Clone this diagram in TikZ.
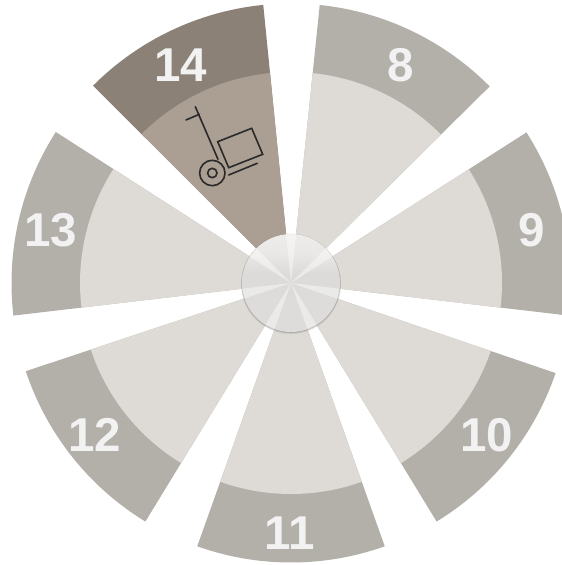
\documentclass[tikz,border=0pt]{standalone}
\usepackage{fontspec}
\setmainfont{Liberation Sans}
\definecolor{outerG}{HTML}{B3B0AA}
\definecolor{innerG}{HTML}{DEDAD6}
\definecolor{outerA}{HTML}{8C8177}
\definecolor{innerA}{HTML}{AB9E92}
\definecolor{labelW}{HTML}{F2F2F2}
\definecolor{iconK}{HTML}{2A2A2A}
\definecolor{hubA}{HTML}{F8F7F6}
\definecolor{hubB}{HTML}{EAE8E6}
\definecolor{hubC}{HTML}{DCDBD9}
\definecolor{hubD}{HTML}{DEDDDB}
\definecolor{hubE}{HTML}{F2F2F1}
\pgfdeclareverticalshading{hubshade}{98bp}{%
  color(0bp)=(hubE); color(7bp)=(hubD); color(54bp)=(hubC); color(64bp)=(hubB); color(98bp)=(hubA)}
\newcommand{\petal}[4]{%
  \fill[#3] (0pt,0pt) -- (#1:279.5pt) arc[start angle=#1,end angle=#2,radius=279.5pt] -- cycle;
  \fill[#4] (0pt,0pt) -- (#1:211pt) arc[start angle=#1,end angle=#2,radius=211pt] -- cycle;}
\newcommand{\glint}[2]{%
  \fill[white,opacity=.42] (0pt,0pt) -- (#1:48.5pt) arc[start angle=#1,end angle=#2,radius=48.5pt] -- cycle;}
\tikzset{
  numlabel/.style={font=\fontsize{47.5}{48}\selectfont\bfseries,text=labelW,inner sep=0pt},
  iconline/.style={draw=iconK,line width=1.6pt,line cap=round,line join=miter}
}
\begin{document}
\begin{tikzpicture}[x=1pt,y=1pt]
\useasboundingbox (0,0) rectangle (562,565);
\clip (0,0) rectangle (562,565);
\begin{scope}[shift={(291pt,282pt)}]
  \petal{44.7}{84.1}{outerG}{innerG}
  \petal{-6.7}{32.6}{outerG}{innerG}
  \petal{-58.6}{-18.8}{outerG}{innerG}
  \petal{-109.6}{-70.4}{outerG}{innerG}
  \petal{-161.6}{-121.4}{outerG}{innerG}
  \petal{147.3}{186.7}{outerG}{innerG}
  \petal{95.7}{135.1}{outerA}{innerA}
  % hub
  \fill[black!60,opacity=.22] (0pt,-.8pt) circle[radius=50pt];
  \fill[black!60,opacity=.22] (0pt,-.4pt) circle[radius=49.4pt];
  \shade[shading=hubshade] (0pt,0pt) circle[radius=49pt];
  \glint{84.1}{95.7}
  \glint{135.1}{147.3}
  \glint{186.7}{198.4}
  \glint{238.6}{250.4}
  \glint{289.6}{301.4}
  \glint{341.2}{353.3}
  \glint{32.6}{44.7}
\end{scope}
% labels
\node[numlabel] (n14) at (181,500) {14};
\node[numlabel] (n8) at (401,500) {8};
\node[numlabel] (n9) at (532,335) {9};
\node[numlabel] (n10) at (487,130) {10};
\node[numlabel] (n11) at (290,32) {11};
\node[numlabel] (n12) at (95,130) {12};
\node[numlabel] (n13) at (51,335) {13};
% cart icon
\draw[iconline] (195.3,458.3) -- (218,405.7);
\draw[iconline] (186,445) -- (199.3,450.7);
\draw[iconline] (217.7,423.3) -- (251.7,436.7) -- (262.7,410.7) -- (228.7,397.3) -- cycle;
\draw[iconline] (228.7,390) -- (257.3,401.7);
\draw[iconline] (212.3,392) circle[radius=12.7];
\draw[iconline] (212.3,392) circle[radius=4.7];
\end{tikzpicture}
\end{document}
